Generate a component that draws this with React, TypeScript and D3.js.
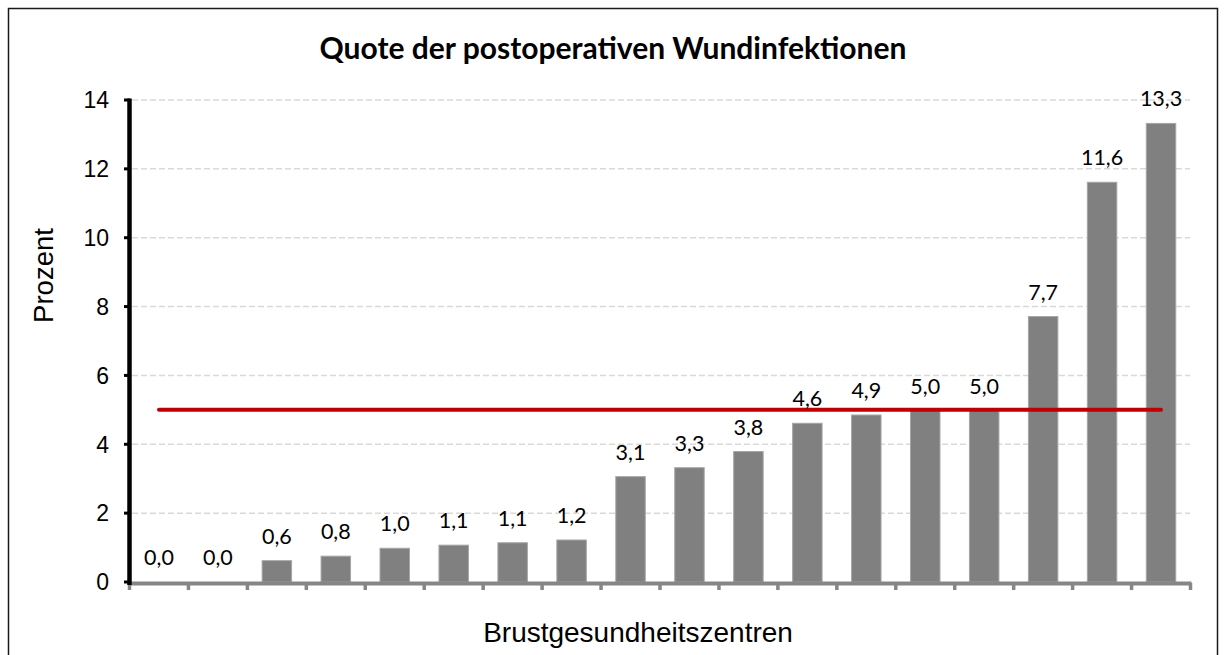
import React from "react";
import * as d3 from "d3";

const categories: string[] = Array.from({ length: 18 }, (_, i) => `Z${i + 1}`);
const values: number[] = [0.0, 0.0, 0.62, 0.75, 0.98, 1.07, 1.14, 1.22, 3.06, 3.32, 3.79, 4.61, 4.85, 4.98, 4.98, 7.71, 11.61, 13.32];
const labels: string[] = ["0,0", "0,0", "0,6", "0,8", "1,0", "1,1", "1,1", "1,2", "3,1", "3,3", "3,8", "4,6", "4,9", "5,0", "5,0", "7,7", "11,6", "13,3"];
const yTicks: number[] = [0, 2, 4, 6, 8, 10, 12, 14];
const referenceValue = 5;
const title = "Quote der postoperativen Wundinfektionen";
const yTitle = "Prozent";
const xTitle = "Brustgesundheitszentren";

export default function App() {
  const W = 1224, H = 655;
  const x0 = 129.5, x1 = 1190.5;
  const y = d3.scaleLinear().domain([0, 14]).range([582, 100]);
  const x = d3.scaleBand<string>().domain(categories).range([x0, x1]).paddingInner(0.5).paddingOuter(0.25);
  const step = x.step();
  const boundaries = d3.range(categories.length + 1).map((i) => x0 + i * step);
  const cx = (c: string) => (x(c) as number) + x.bandwidth() / 2;

  return (
    <svg width={W} height={H} style={{ position: "absolute", left: 0, top: 0, background: "#fff" }}>
      <rect x={8.5} y={8.5} width={1209} height={700} fill="#fff" stroke="#1a1a1a" strokeWidth={1.5} />
      <text x={613} y={59} textAnchor="middle" fontFamily="Lato" fontWeight="bold" fontSize={30}>{title}</text>

      {yTicks.filter((t) => t > 0).map((t) => (
        <line key={`g${t}`} x1={132} x2={1190} y1={y(t)} y2={y(t)} stroke="#d9d9d9" strokeWidth={1.5} strokeDasharray="6,3" />
      ))}

      {categories.map((c, i) => (
        <rect key={c} x={x(c)} y={y(values[i])} width={x.bandwidth()} height={y(0) - y(values[i])} fill="#808080" stroke="#a6a6a6" strokeWidth={1} />
      ))}

      {/* x axis */}
      <line x1={x0} x2={x1 + 1} y1={583.5} y2={583.5} stroke="#868686" strokeWidth={4} />
      {boundaries.map((b, i) => (
        <line key={`xt${i}`} x1={b} x2={b} y1={583} y2={590} stroke="#868686" strokeWidth={3.5} />
      ))}

      {/* y axis */}
      <line x1={129.5} x2={129.5} y1={98.5} y2={585} stroke="#000" strokeWidth={4.5} />
      {yTicks.map((t) => (
        <g key={`yt${t}`}>
          <line x1={124} x2={130} y1={y(t)} y2={y(t)} stroke="#000" strokeWidth={3} />
          <text x={109} y={y(t)} dy="0.36em" textAnchor="end" fontFamily="Liberation Sans" fontSize={23}>{t}</text>
        </g>
      ))}

      {/* reference line */}
      <line x1={cx(categories[0])} x2={cx(categories[categories.length - 1])} y1={y(referenceValue)} y2={y(referenceValue)} stroke="#c00000" strokeWidth={4} strokeLinecap="round" />

      {categories.map((c, i) => (
        <text key={`l${c}`} x={cx(c)} y={y(values[i]) - 17} textAnchor="middle" fontFamily="Lato" fontSize={21.5}>{labels[i]}</text>
      ))}

      <text transform={`translate(53,275.5) rotate(-90)`} textAnchor="middle" fontFamily="Liberation Sans" fontSize={27.5}>{yTitle}</text>
      <text x={638} y={642} textAnchor="middle" fontFamily="Liberation Sans" fontSize={28}>{xTitle}</text>
    </svg>
  );
}
